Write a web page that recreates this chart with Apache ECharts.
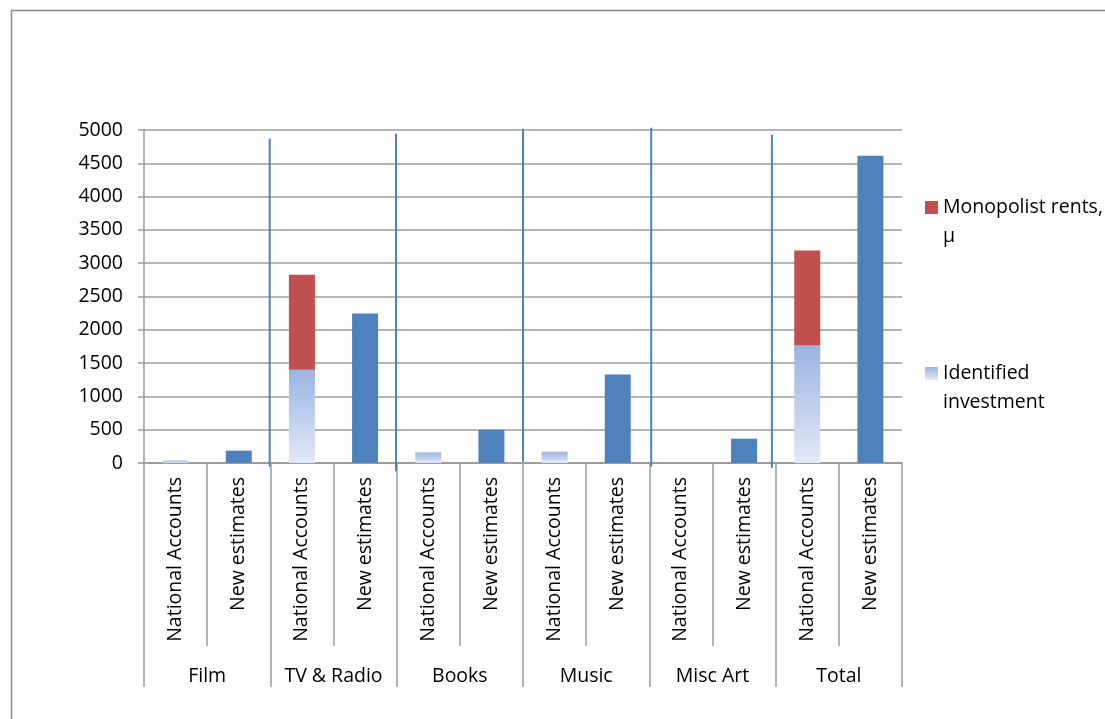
<!DOCTYPE html>
<html>
<head>
<meta charset="utf-8">
<script src="https://cdn.jsdelivr.net/npm/echarts@6/dist/echarts.min.js"></script>
<style>
  html, body { margin: 0; padding: 0; background: #ffffff; }
  #chart { width: 1105px; height: 719px; }
</style>
</head>
<body>
<div id="chart"></div>
<script>
// Sector groups and the two estimate kinds shown under each one
const groups = ['Film', 'TV & Radio', 'Books', 'Music', 'Misc Art', 'Total'];
const kinds = ['National Accounts', 'New estimates'];

// National Accounts: identified investment and monopolist rents (stacked)
const nationalIdentified = [35, 1400, 160, 170, 0, 1765];
const nationalRents = [0, 1425, 0, 0, 0, 1425];
// New estimates per sector
const newEstimates = [185, 2245, 500, 1330, 365, 4615];

// Y axis ticks
const yTicks = { min: 0, max: 5000, step: 500 };

// Hand-drawn blue separators: position in category units, top / bottom in axis values
const dividerX = [1.99, 3.99, 6.0, 8.03, 9.94];
const dividerTop = [4870, 4945, 5020, 5035, 4930];
const dividerBottom = [-55, -125, 20, -55, -70];

const FONT = '"Open Sans", "DejaVu Sans", sans-serif';
const FS = 19.5;
const GRAY = '#9c9c9c';
const BLUE = '#4F81BD';
const RED = '#C0504D';

const categories = [];
const identData = [];
const rentData = [];
const newData = [];
groups.forEach((g, i) => {
  categories.push(kinds[0], kinds[1]);
  identData.push(nationalIdentified[i], null);
  rentData.push(nationalRents[i] || null, null);
  newData.push(null, newEstimates[i]);
});

const identGradient = new echarts.graphic.LinearGradient(0, 0, 0, 1, [
  { offset: 0, color: '#9BB4E3' },
  { offset: 1, color: '#E3E9F6' }
]);

// Legend text wraps onto two lines; a leading empty line keeps the icon beside the first line
const legendLabels = {
  'Monopolist rents, μ': '\nMonopolist rents,\nμ',
  'Identified investment': '\nIdentified\ninvestment'
};

function legendAt(name, top) {
  return {
    data: [name],
    orient: 'vertical',
    left: 925,
    top: top,
    padding: 0,
    itemWidth: 13,
    itemHeight: 13,
    icon: 'rect',
    selectedMode: false,
    formatter: n => legendLabels[n],
    textStyle: {
      fontFamily: FONT,
      fontSize: FS,
      color: '#000',
      lineHeight: 29
    }
  };
}

const dividerSeries = dividerX.map((x, i) => ({
  type: 'line',
  xAxisIndex: 2,
  yAxisIndex: 0,
  data: [[x, dividerTop[i]], [x, dividerBottom[i]]],
  symbol: 'none',
  clip: false,
  silent: true,
  lineStyle: { color: BLUE, width: 2 },
  z: 5
}));

const option = {
  backgroundColor: '#ffffff',
  animation: false,
  graphic: [{
    type: 'polyline',
    shape: { points: [[11.5, 730], [11.5, 10.5], [1110, 10.5]] },
    style: { stroke: '#8a8a8a', lineWidth: 1.5, fill: null },
    silent: true
  }],
  legend: [legendAt('Monopolist rents, μ', 164), legendAt('Identified investment', 330)],
  grid: { left: 144, right: 203, top: 130, bottom: 256, containLabel: false },
  xAxis: [
    {
      type: 'category',
      data: categories,
      position: 'bottom',
      axisLine: { lineStyle: { color: GRAY, width: 1.5 } },
      axisTick: { show: true, interval: 0, length: 183, lineStyle: { color: GRAY, width: 1.5 } },
      axisLabel: {
        interval: 0, rotate: 90, margin: 14,
        fontFamily: FONT, fontSize: FS, color: '#000'
      }
    },
    {
      type: 'category',
      data: groups,
      position: 'bottom',
      axisLine: { lineStyle: { color: GRAY, width: 1.5 } },
      axisTick: { show: true, interval: 0, length: 224, lineStyle: { color: GRAY, width: 1.5 } },
      axisLabel: {
        interval: 0, margin: 203,
        fontFamily: FONT, fontSize: FS, color: '#000'
      }
    },
    { type: 'value', min: 0, max: 12, show: false }
  ],
  yAxis: {
    type: 'value',
    min: yTicks.min,
    max: yTicks.max,
    interval: yTicks.step,
    axisLine: { show: true, lineStyle: { color: GRAY, width: 1.5 } },
    axisTick: { show: true, length: 6, lineStyle: { color: GRAY, width: 1.5 } },
    axisLabel: {
      margin: 21, fontFamily: FONT, fontSize: FS, color: '#000',
      formatter: v => String(v)
    },
    splitLine: { show: true, lineStyle: { color: GRAY, width: 1.5 } }
  },
  series: [
    {
      name: 'Identified investment',
      type: 'bar',
      stack: 'est',
      barWidth: 26,
      itemStyle: { color: identGradient },
      data: identData
    },
    {
      name: 'Monopolist rents, μ',
      type: 'bar',
      stack: 'est',
      barWidth: 26,
      itemStyle: { color: RED },
      data: rentData
    },
    {
      name: 'New estimates',
      type: 'bar',
      stack: 'est',
      barWidth: 26,
      itemStyle: { color: BLUE },
      data: newData
    },
    ...dividerSeries
  ]
};

const chart = echarts.init(document.getElementById('chart'), null, { renderer: 'canvas' });
chart.setOption(option);
</script>
</body>
</html>
